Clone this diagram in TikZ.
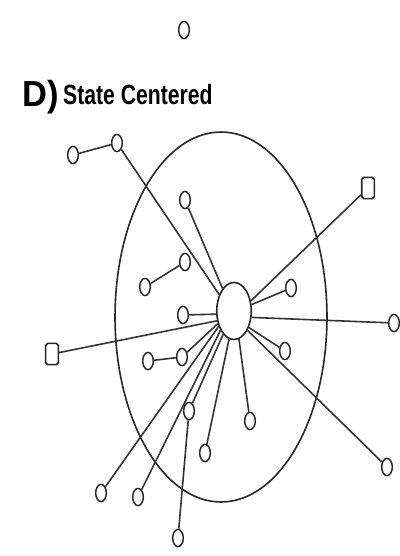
\documentclass[tikz,border=0pt]{standalone}
\usepackage{fontspec}
\setmainfont{Liberation Sans}
\usetikzlibrary{shapes.geometric}
\begin{document}
\begin{tikzpicture}[x=0.0265cm,y=-0.0265cm,
  dot/.style={draw=black!85,ellipse,line width=1.1pt,inner sep=0pt,minimum width=8pt,minimum height=13pt,fill=white},
  sq/.style={draw=black!85,rectangle,rounded corners=1.5pt,line width=1.2pt,inner sep=0pt,minimum width=9.5pt,minimum height=16pt,fill=white},
  hubst/.style={draw=black!85,ellipse,line width=1.2pt,inner sep=0pt,minimum width=26pt,minimum height=43pt,fill=white},
  link/.style={draw=black!80,line width=1.2pt}]
\useasboundingbox (0,0) rectangle (399,556);
% title
\node[anchor=base west,inner sep=0pt,font=\bfseries\fontsize{26}{26}\selectfont,yscale=1.05] (tD) at (22,107) {D)};
\node[anchor=base west,inner sep=0pt,font=\bfseries\fontsize{21}{21}\selectfont,xscale=0.76] (tS) at (63,105) {State Centered};
% big ellipse
\draw[black!85,line width=1.2pt] (221,317) ellipse [x radius=2.809cm, y radius=4.9025cm];
% top isolated node
\node[dot] (n0) at (184,30) {};
% hub
\node[hubst] (hub) at (234,311) {};
% satellites
\node[dot] (n1) at (73,155) {};
\node[dot] (n2) at (117,143) {};
\node[dot] (n3) at (185,200) {};
\node[sq]  (n4) at (368,188) {};
\node[dot] (n5a) at (145,287) {};
\node[dot] (n5b) at (185,262) {};
\node[dot] (n6) at (291,288) {};
\node[dot] (n7) at (183,315) {};
\node[sq]  (n8) at (52,354) {};
\node[dot] (n9) at (394,323) {};
\node[dot] (n10a) at (148,361) {};
\node[dot] (n10b) at (182,357) {};
\node[dot] (n11) at (285,351) {};
\node[dot] (n12) at (189,411) {};
\node[dot] (n12b) at (178,538) {};
\node[dot] (n13) at (250,421) {};
\node[dot] (n14) at (205,453) {};
\node[dot] (n15) at (101,493) {};
\node[dot] (n16) at (138,497) {};
\node[dot] (n17) at (387,467) {};
% connectors
\path[link] (n1) -- (n2);
\path[link] (n2) -- (hub.132);
\path[link] (n3) -- (hub.117);
\path[link] (n4) -- (hub.31);
\path[link] (n6) -- (hub.20);
\path[link] (n9) -- (hub.-20);
\path[link] (n11) -- (hub.-48);
\path[link] (n17) -- (hub.-55);
\path[link] (n13) -- (hub.-80);
\path[link] (n14) -- (hub.-100);
\path[link] (n12) -- (hub.-115);
\path[link] (n12) -- (n12b);
\path[link] (n16) -- (hub.-125);
\path[link] (n15) -- (hub.-135);
\path[link] (n10b) -- (hub.-142);
\path[link] (n10a) -- (n10b);
\path[link] (n8) -- (hub.-150);
\path[link] (n7) -- (hub.190);
\path[link] (n5a) -- (n5b);
\end{tikzpicture}
\end{document}
